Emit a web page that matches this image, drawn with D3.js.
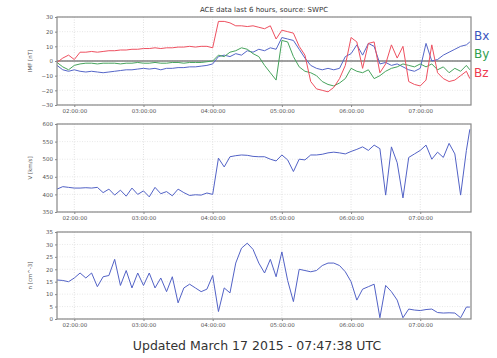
<!DOCTYPE html>
<html>
<head>
<meta charset="utf-8">
<script src="https://cdn.jsdelivr.net/npm/d3@7"></script>
<style>
  html, body { margin: 0; padding: 0; background: #fff; }
  svg { display: block; }
  text { font-family: "DejaVu Sans", sans-serif; }
</style>
</head>
<body>
<svg id="chart" width="497" height="358"></svg>
<script>
// ACE real-time solar wind: magnetic field, speed and density (UTC)
const times = ["01:45","01:50","01:55","02:00","02:05","02:10","02:15","02:20","02:25","02:30","02:35","02:40",
  "02:45","02:50","02:55","03:00","03:05","03:10","03:15","03:20","03:25","03:30","03:35","03:40",
  "03:45","03:50","03:55","04:00","04:05","04:10","04:15","04:20","04:25","04:30","04:35","04:40",
  "04:45","04:50","04:55","05:00","05:05","05:10","05:15","05:20","05:25","05:30","05:35","05:40",
  "05:45","05:50","05:55","06:00","06:05","06:10","06:15","06:20","06:25","06:30","06:35","06:40",
  "06:45","06:50","06:55","07:00","07:05","07:10","07:15","07:20","07:25","07:30","07:35","07:40","07:43"];

const bx = [-3,-6,-7,-6,-7,-7.5,-7,-7.5,-8,-7.5,-7,-6.5,
  -6,-6,-5.5,-5,-5.5,-5,-6,-5,-5,-4.5,-4.5,-4,
  -4,-3.5,-3,-2,3,4,3,5,4,7,6,8,
  7,9,8,16,15,14,8,2,-3,-5,-6,-5,
  -6,-5,3,5,11,4,12,10,-2,-1,-3,-2,
  -4,-6,-7,-5,12,0,1,4,6,8,10,11,13];

const by = [-1,-4,-6,-3,-2,-1.5,-1.5,-2,-1.5,-1.5,-1.5,-2,
  -1.5,-1.5,-1,-1.5,-1.5,-1,-1.5,-1.5,-1,-1,-1.5,-1,
  -1,-1,-0.5,0,4,3,6,7,9,8,5,3,
  -3,-8,-13,14,13,3,-4,-7,-8,-10,-14,-16,
  -17,-15,-12,-5,-7,-8,-6,-12,-10,-7,-5,-4,
  -2,-3,-4,-2,-4,-2,-6,-4,-8,-5,-7,-3,-6];

const bz = [-1,2,4,1,6,6,6.5,6,6.5,7,7,7.5,
  7.5,8,8,8.5,8.5,9,8.5,9,9,9.5,9.5,10,
  9.5,10,10,9,27,27,26,24,24,23.5,24,23,
  22,24,15,21,20,19,10,4,-14,-19,-20,-21,
  -18,-12,-3,16,13,-5,12,13,-8,-2,11,2,
  10,-14,-16,-17,-13,11,-8,-12,-14,-13,-10,-7,-12];

const speed = [415,422,420,418,418,419,418,420,405,415,398,412,
  395,418,400,410,393,420,402,408,396,415,405,397,
  399,398,404,400,503,478,507,510,512,511,508,507,
  507,500,495,512,498,465,500,498,512,512,514,518,
  520,518,515,522,528,535,525,540,530,398,535,490,
  390,505,515,525,540,500,520,505,545,515,398,525,585];

const density = [15.7,15.5,15,16.5,18.5,16.5,18.5,13,17,17.5,24,13.5,
  19.5,12.5,18.5,13.5,18.5,12.5,16.5,11,17,6.5,12.5,14,
  12.5,11,12,17.5,3,12.5,10.5,22.5,28.5,30.5,28,22.5,
  18.5,24,17,27,15.5,7,20,19.5,19,19.5,21.5,22.5,
  22.5,21.5,19,15,7.6,12,13,14,0.5,13.5,11,7.6,
  0.5,4,3.6,3.4,3.8,4,2.6,2.4,2.5,2.4,0.5,4.8,4.8];

const imfTicks = [-30,-20,-10,0,10,20,30];
const speedTicks = [350,400,450,500,550,600];
const densityTicks = [0,5,10,15,20,25,30,35];
const hourTicks = ["02:00","03:00","04:00","05:00","06:00","07:00"];

const titleText = "ACE data last 6 hours, source: SWPC";
const updatedText = "Updated March 17 2015 - 07:47:38 UTC";

const parse = d3.utcParse("%H:%M");
const dates = times.map(parse);

const svg = d3.select("#chart");
const left = 57, right = 471;

const x = d3.scaleUtc()
  .domain([parse("01:45"), parse("07:44")])
  .range([left, right]);

const panels = [
  { top: 17, bottom: 105, domain: [-30, 30], ticks: imfTicks, label: "IMF [nT]",
    series: [ { values: bx, color: "#5566c8" }, { values: by, color: "#46a35c" }, { values: bz, color: "#ee5060" } ],
    zero: true },
  { top: 124, bottom: 212, domain: [350, 600], ticks: speedTicks, label: "V [km/s]",
    series: [ { values: speed, color: "#5262c6" } ] },
  { top: 232, bottom: 319, domain: [0, 35], ticks: densityTicks, label: "n [cm^-3]",
    series: [ { values: density, color: "#5262c6" } ] }
];

panels.forEach(p => {
  const y = d3.scaleLinear().domain(p.domain).range([p.bottom, p.top]);
  const g = svg.append("g");

  // grid
  g.append("g").selectAll("line.v").data(hourTicks.map(parse)).join("line")
    .attr("x1", d => x(d)).attr("x2", d => x(d))
    .attr("y1", p.top).attr("y2", p.bottom)
    .attr("stroke", "#d8d8d8").attr("stroke-width", 0.8).attr("stroke-dasharray", "1,1.5");
  g.append("g").selectAll("line.h").data(p.ticks).join("line")
    .attr("x1", left).attr("x2", right)
    .attr("y1", d => y(d)).attr("y2", d => y(d))
    .attr("stroke", "#e2e2e2").attr("stroke-width", 0.8).attr("stroke-dasharray", "1,1.5");

  if (p.zero) {
    g.append("line")
      .attr("x1", left).attr("x2", right)
      .attr("y1", y(0)).attr("y2", y(0))
      .attr("stroke", "#444").attr("stroke-width", 1.2);
  }

  // data lines
  p.series.forEach(s => {
    const line = d3.line()
      .x((d, i) => x(dates[i]))
      .y(d => y(d));
    g.append("path")
      .datum(s.values)
      .attr("fill", "none")
      .attr("stroke", s.color)
      .attr("stroke-width", 1)
      .attr("d", line);
  });

  // frame
  g.append("rect")
    .attr("x", left).attr("y", p.top)
    .attr("width", right - left).attr("height", p.bottom - p.top)
    .attr("fill", "none").attr("stroke", "#888").attr("stroke-width", 1.2);

  // axes
  const yAxis = d3.axisLeft(y).tickValues(p.ticks).tickSize(2).tickPadding(2);
  const ya = g.append("g").attr("transform", `translate(${left},0)`).call(yAxis);
  ya.select(".domain").remove();
  ya.selectAll("text").attr("font-size", 5.5).attr("fill", "#555");
  ya.selectAll("line").attr("stroke", "#888");

  const xAxis = d3.axisBottom(x).tickValues(hourTicks.map(parse))
    .tickFormat(d3.utcFormat("%H:%M:%S")).tickSize(2).tickPadding(2);
  const xa = g.append("g").attr("transform", `translate(0,${p.bottom})`).call(xAxis);
  xa.select(".domain").remove();
  xa.selectAll("text").attr("font-size", 5.5).attr("fill", "#555");
  xa.selectAll("line").attr("stroke", "#888");

  g.append("text")
    .attr("transform", `translate(32,${(p.top + p.bottom) / 2}) rotate(-90)`)
    .attr("text-anchor", "middle")
    .attr("font-size", 5.5).attr("fill", "#555")
    .text(p.label);
});

// title
svg.append("text")
  .attr("x", (left + right) / 2).attr("y", 12)
  .attr("text-anchor", "middle")
  .attr("font-size", 7).attr("fill", "#333")
  .text(titleText);

// legend for the field components
const legend = [ { name: "Bx", color: "#3b57c0" }, { name: "By", color: "#2f9e4e" }, { name: "Bz", color: "#ee3b4f" } ];
const legendY = [40, 58, 77];
svg.append("g").selectAll("text").data(legend).join("text")
  .attr("x", 474).attr("y", (d, i) => legendY[i])
  .attr("font-size", 12)
  .attr("fill", d => d.color)
  .text(d => d.name);

// timestamp
svg.append("text")
  .attr("x", 257).attr("y", 350)
  .attr("text-anchor", "middle")
  .attr("font-size", 12.5).attr("fill", "#333")
  .text(updatedText);
</script>
</body>
</html>
